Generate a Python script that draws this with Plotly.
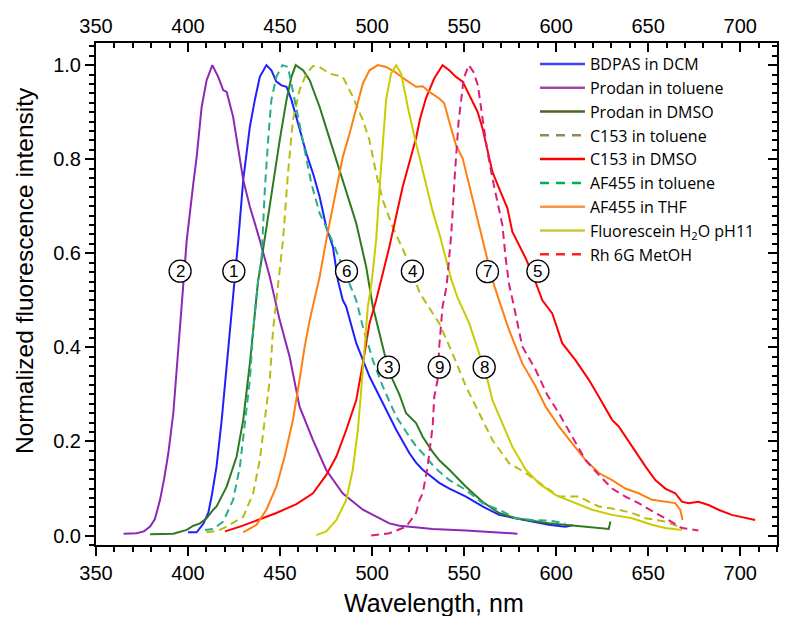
import plotly.graph_objects as go

# ---------------- data ----------------
names = ["BDPAS in DCM", "Prodan in toluene", "Prodan in DMSO", "C153 in toluene",
         "C153 in DMSO", "AF455 in toluene", "AF455 in THF",
         "Fluorescein H<sub>2</sub>O pH11", "Rh 6G MetOH"]

bdpas_x = [400, 404.7, 408.3, 411, 412.8, 415.5, 418.3, 421, 423.7, 425.5, 427.3, 430, 433.6, 436.3, 439,
           442.6, 445.3, 448, 450.8, 453.5, 456.2, 459.8, 464.3, 467.9, 471.5, 475.1, 478.7, 481.4, 484.1,
           485.9, 491.4, 498.6, 505.8, 513.1, 520.3, 523.9, 527.5, 532.9, 536.5, 542, 551, 560, 569, 578,
           587, 596, 605, 609]
bdpas_y = [0.007, 0.007, 0.025, 0.048, 0.083, 0.147, 0.246, 0.359, 0.472, 0.562, 0.628, 0.756, 0.869, 0.926,
           0.975, 1.0, 0.989, 0.965, 0.957, 0.954, 0.926, 0.876, 0.812, 0.77, 0.72, 0.656, 0.614, 0.543, 0.50,
           0.487, 0.409, 0.338, 0.281, 0.225, 0.175, 0.155, 0.14, 0.122, 0.112, 0.1, 0.083, 0.062, 0.044,
           0.037, 0.03, 0.023, 0.019, 0.022]

prodan_tol_x = [365, 372, 376, 379.4, 382, 384.8, 387, 389.3, 392, 394.7, 397.5, 399.3, 402.9, 404.7, 407.4,
                410.1, 413.2, 416.4, 419.1, 421, 424.5, 427.3, 430, 433.6, 439, 444.4, 449.8, 455.2, 460.6,
                467.9, 475, 484, 495, 509.4, 514.8, 527.5, 532.9, 551, 569, 579]
prodan_tol_y = [0.004, 0.005, 0.009, 0.019, 0.035, 0.076, 0.12, 0.175, 0.26, 0.40, 0.543, 0.628, 0.749, 0.805,
                0.911, 0.968, 1.0, 0.975, 0.947, 0.943, 0.89, 0.826, 0.756, 0.699, 0.628, 0.55, 0.458, 0.38,
                0.274, 0.203, 0.14, 0.09, 0.055, 0.026, 0.021, 0.016, 0.014, 0.011, 0.007, 0.004]

prodan_dmso_x = [379.4, 392, 399.3, 402.9, 406.5, 410.1, 413.7, 415.5, 421, 426.4, 430, 433.6, 436.3, 438.1,
                 439, 442.6, 446.2, 449.8, 453.5, 456.2, 458.5, 462.5, 466.1, 471.5, 476, 480.6, 486, 491.4,
                 496.8, 499.5, 500.4, 504, 506.7, 511.2, 514.8, 518.5, 523.9, 527.5, 532.9, 536.5, 542, 551,
                 560, 569, 578, 596, 614.1, 628.6, 629.5]
prodan_dmso_y = [0.003, 0.004, 0.012, 0.021, 0.026, 0.037, 0.055, 0.062, 0.104, 0.168, 0.246, 0.366, 0.472,
                 0.543, 0.562, 0.656, 0.756, 0.84, 0.926, 0.975, 1.0, 0.989, 0.968, 0.911, 0.855, 0.798, 0.734,
                 0.664, 0.571, 0.50, 0.487, 0.43, 0.387, 0.331, 0.30, 0.26, 0.239, 0.21, 0.178, 0.16, 0.14,
                 0.104, 0.072, 0.048, 0.037, 0.026, 0.019, 0.014, 0.03]

c153_tol_x = [410, 416, 421, 430, 435.4, 439, 441.7, 444.4, 446.2, 449, 451.6, 454.3, 457, 460.6, 464.3,
              467.9, 471.5, 476.9, 484.1, 489.5, 495, 498.6, 502.2, 505.8, 511.2, 518.5, 526, 536.5, 543.7,
              551, 558.2, 565.4, 574.4, 583.5, 592.5, 601.5, 612.3, 623.2, 634, 641.2, 648.5, 659.3, 666.5,
              669.2]
c153_tol_y = [0.007, 0.01, 0.019, 0.04, 0.09, 0.161, 0.246, 0.331, 0.437, 0.54, 0.628, 0.77, 0.883, 0.947,
              0.982, 0.998, 0.996, 0.982, 0.975, 0.933, 0.883, 0.84, 0.77, 0.713, 0.656, 0.593, 0.515, 0.451,
              0.387, 0.317, 0.26, 0.203, 0.154, 0.133, 0.108, 0.083, 0.083, 0.062, 0.055, 0.048, 0.037, 0.03,
              0.019, 0.016]

c153_dmso_x = [420.1, 428.2, 437.2, 448, 458.9, 467.9, 475.1, 480.6, 486, 491.4, 495, 498.6, 502.2, 509.4,
               516.6, 523.9, 526, 529.3, 533.8, 538.3, 541.9, 545.6, 549.2, 552.8, 557.3, 560, 562.7, 565.4,
               569, 573.5, 576.2, 579.8, 583.5, 588, 592.5, 597.9, 603.3, 610.5, 617.8, 623.2, 630.4, 634,
               641.2, 648.5, 653.9, 659.3, 664.7, 668.3, 671.9, 677.3, 682.8, 688.2, 695.4, 702.6, 708.1]
c153_dmso_y = [0.009, 0.019, 0.032, 0.048, 0.067, 0.09, 0.129, 0.168, 0.225, 0.288, 0.366, 0.451, 0.50, 0.614,
               0.741, 0.845, 0.885, 0.93, 0.972, 1.0, 0.989, 0.975, 0.965, 0.936, 0.901, 0.866, 0.816, 0.773,
               0.738, 0.696, 0.646, 0.618, 0.589, 0.547, 0.50, 0.472, 0.409, 0.373, 0.331, 0.295, 0.246, 0.232,
               0.189, 0.147, 0.118, 0.1, 0.09, 0.072, 0.069, 0.072, 0.065, 0.055, 0.044, 0.037, 0.033]

af455_tol_x = [409.2, 413.7, 419.1, 424.5, 428.2, 430.9, 433.6, 435.4, 438.1, 440, 441.7, 443.5, 445.3, 448,
               451.3, 454.3, 457, 459.8, 463.4, 467, 471.5, 475.1, 479.6, 484.1, 487.8, 491.4, 495, 500.4,
               505.8, 513.1, 520.3, 523.9, 527.5, 532.9, 536.5, 542, 551, 560, 569, 578, 587, 596, 605]
af455_tol_y = [0.012, 0.014, 0.03, 0.076, 0.147, 0.246, 0.331, 0.437, 0.543, 0.593, 0.734, 0.84, 0.926, 0.975,
               1.0, 0.996, 0.94, 0.89, 0.819, 0.749, 0.685, 0.656, 0.614, 0.571, 0.535, 0.50, 0.444, 0.373,
               0.317, 0.253, 0.21, 0.19, 0.175, 0.15, 0.136, 0.118, 0.097, 0.069, 0.055, 0.037, 0.033, 0.032,
               0.026]

af455_thf_x = [430, 437.2, 442.6, 448, 452.5, 457, 460.6, 463.4, 466.1, 469.7, 471.5, 475.1, 480.6, 484.1,
               487.8, 491.4, 495, 498.6, 503.1, 507.6, 512.1, 518.5, 523.9, 527.5, 531.1, 536.5, 539.2, 541.9,
               545.6, 549.2, 552.8, 556.4, 560, 562.7, 565.4, 569, 574.4, 581.6, 588.9, 594.3, 601.5, 608.7,
               615.9, 623.2, 630.4, 637.6, 644.8, 652.1, 659.3, 664.7, 667.4, 668.7]
af455_thf_y = [0.007, 0.023, 0.055, 0.104, 0.168, 0.246, 0.331, 0.402, 0.458, 0.522, 0.55, 0.628, 0.734, 0.805,
               0.855, 0.911, 0.961, 0.989, 1.0, 0.996, 0.986, 0.968, 0.954, 0.955, 0.943, 0.929, 0.919, 0.88,
               0.83, 0.802, 0.745, 0.688, 0.632, 0.589, 0.543, 0.50, 0.437, 0.366, 0.317, 0.274, 0.232, 0.196,
               0.161, 0.133, 0.118, 0.1, 0.09, 0.076, 0.072, 0.069, 0.055, 0.033]

fluor_x = [469.7, 475.1, 480.6, 486, 489.5, 492.3, 494.1, 495.9, 497.7, 499.5, 502.2, 504, 505.8, 507.6, 510.3,
           513.1, 515.8, 519.4, 523.5, 528, 533, 537, 540, 543, 546.5, 552.8, 558.2, 561.8, 565.4, 570.8,
           576.2, 583.5, 590.7, 599.7, 608.7, 619.5, 630.4, 641.2, 652.1, 659.3, 668.3]
fluor_y = [0.001, 0.009, 0.033, 0.076, 0.14, 0.225, 0.31, 0.402, 0.487, 0.53, 0.628, 0.734, 0.84, 0.926, 0.982,
           1.0, 0.982, 0.911, 0.84, 0.765, 0.688, 0.635, 0.59, 0.545, 0.505, 0.451, 0.387, 0.345, 0.288, 0.239,
           0.189, 0.14, 0.111, 0.086, 0.072, 0.055, 0.044, 0.037, 0.023, 0.016, 0.012]

rh6g_x = [499.5, 509.4, 518.5, 523.9, 525.7, 527.5, 530.2, 531.1, 532.9, 533.8, 535.6, 536.5, 538.3, 540.5,
          543, 545, 547, 549.8, 552.5, 555, 557.5, 560, 562.7, 565.4, 568.1, 570.8, 572.6, 574.4, 577.1, 581.6,
          588.9, 595.2, 601.5, 608.7, 615.9, 623.2, 630.4, 637.6, 644.8, 653.9, 661.1, 668.3, 677.3]
rh6g_y = [0.0, 0.005, 0.019, 0.048, 0.075, 0.09, 0.147, 0.175, 0.232, 0.295, 0.331, 0.402, 0.487, 0.53, 0.64,
          0.77, 0.88, 0.972, 1.0, 0.986, 0.957, 0.887, 0.816, 0.759, 0.71, 0.66, 0.589, 0.535, 0.487, 0.402,
          0.352, 0.299, 0.26, 0.21, 0.161, 0.129, 0.1, 0.083, 0.069, 0.048, 0.033, 0.016, 0.011]

curve_x = [bdpas_x, prodan_tol_x, prodan_dmso_x, c153_tol_x, c153_dmso_x, af455_tol_x, af455_thf_x, fluor_x, rh6g_x]
curve_y = [bdpas_y, prodan_tol_y, prodan_dmso_y, c153_tol_y, c153_dmso_y, af455_tol_y, af455_thf_y, fluor_y, rh6g_y]

line_colors = ["#2020ff", "#8c28b4", "#2d7a1f", "#b8bb16", "#ff0000", "#26ad8c", "#ff7f10", "#cacc00", "#dc1e78"]
legend_colors = ["#4040ff", "#9e4aa8", "#4f6228", "#948a54", "#ff0000", "#00b050", "#f79646", "#c8c83c", "#ff2020"]
dashed = [False, False, False, True, False, True, False, False, True]

label_text = ["1", "2", "3", "4", "5", "6", "7", "8", "9"]
label_x = [424.9, 395.7, 508.9, 521.9, 590.1, 486.1, 562.7, 560.9, 536.5]
label_y = [0.562, 0.562, 0.358, 0.562, 0.562, 0.562, 0.561, 0.358, 0.358]

x_title = "Wavelength, nm"
y_title = "Normalized fluorescence intensity"
x_range = [350, 720]
y_range = [-0.02, 1.047]

# ---------------- figure ----------------
FONT = "Liberation Sans, Arial, sans-serif"
LEG_FONT = "Open Sans"
fig = go.Figure()

for i in range(len(names)):
    fig.add_trace(go.Scatter(
        x=curve_x[i], y=curve_y[i], mode="lines", showlegend=False, name=names[i],
        line=dict(color=line_colors[i], width=2, dash="8px,5px" if dashed[i] else "solid"),
    ))

for i in range(len(names)):
    fig.add_trace(go.Scatter(
        x=[None], y=[None], mode="lines", name=names[i], showlegend=True,
        line=dict(color=legend_colors[i], width=2.5, dash="9px,7px" if dashed[i] else "solid"),
    ))

# mirrored axes (top & right) with inward ticks
fig.add_trace(go.Scatter(x=[None], y=[None], xaxis="x2", yaxis="y2", showlegend=False, hoverinfo="skip"))

shapes = []
annotations = []
for t, lx, ly in zip(label_text, label_x, label_y):
    shapes.append(dict(type="circle", xref="x", yref="y", xsizemode="pixel", ysizemode="pixel",
                       xanchor=lx, yanchor=ly, x0=-11, x1=11, y0=-11, y1=11,
                       fillcolor="white", line=dict(color="black", width=1.3), layer="above"))
    annotations.append(dict(x=lx, y=ly, xref="x", yref="y", text=t, showarrow=False,
                            font=dict(family=FONT, size=17, color="black")))

annotations.append(dict(x=0.4963, y=-0.1155, xref="paper", yref="paper", text=x_title, showarrow=False,
                        xanchor="center", yanchor="middle", font=dict(family=FONT, size=25, color="black")))
annotations.append(dict(x=-0.1057, y=0.5458, xref="paper", yref="paper", text=y_title, showarrow=False,
                        textangle=-90, xanchor="center", yanchor="middle",
                        font=dict(family=FONT, size=24.5, color="black")))

axis_common = dict(showline=True, linecolor="black", linewidth=2, showgrid=False, zeroline=False,
                   tickcolor="black", tickwidth=2, automargin=False)

# the page body adds an 8px margin, so the figure is sized/offset to compensate
fig.update_layout(
    width=772, height=608,
    margin=dict(l=88, r=3, t=35, b=71),
    paper_bgcolor="white", plot_bgcolor="white",
    font=dict(family=FONT, color="black"),
    xaxis=dict(range=x_range, tick0=350, dtick=50, ticks="outside", ticklen=9,
               minor=dict(dtick=10, ticks="outside", ticklen=5, tickcolor="black", tickwidth=2),
               tickfont=dict(size=20), **axis_common),
    xaxis2=dict(range=x_range, overlaying="x", side="top", anchor="y", tick0=350, dtick=50, ticks="inside",
                ticklen=9, minor=dict(dtick=10, ticks="inside", ticklen=5, tickcolor="black", tickwidth=2),
                tickfont=dict(size=20), **axis_common),
    yaxis=dict(range=y_range, tick0=0, dtick=0.2, tickformat=".1f", ticks="outside", ticklen=9,
               minor=dict(dtick=0.02, ticks="outside", ticklen=5, tickcolor="black", tickwidth=2),
               tickfont=dict(size=20), **axis_common),
    yaxis2=dict(range=y_range, overlaying="y", side="right", anchor="x", tick0=0, dtick=0.2, ticks="inside",
                ticklen=9, showticklabels=False,
                minor=dict(dtick=0.02, ticks="inside", ticklen=5, tickcolor="black", tickwidth=2),
                **axis_common),
    legend=dict(x=0.6446, y=0.992, xanchor="left", yanchor="top", bgcolor="rgba(0,0,0,0)",
                font=dict(family=LEG_FONT, size=16, color="black"), itemwidth=45, tracegroupgap=0),
    shapes=shapes,
    annotations=annotations,
)

fig.write_html("out.html")
